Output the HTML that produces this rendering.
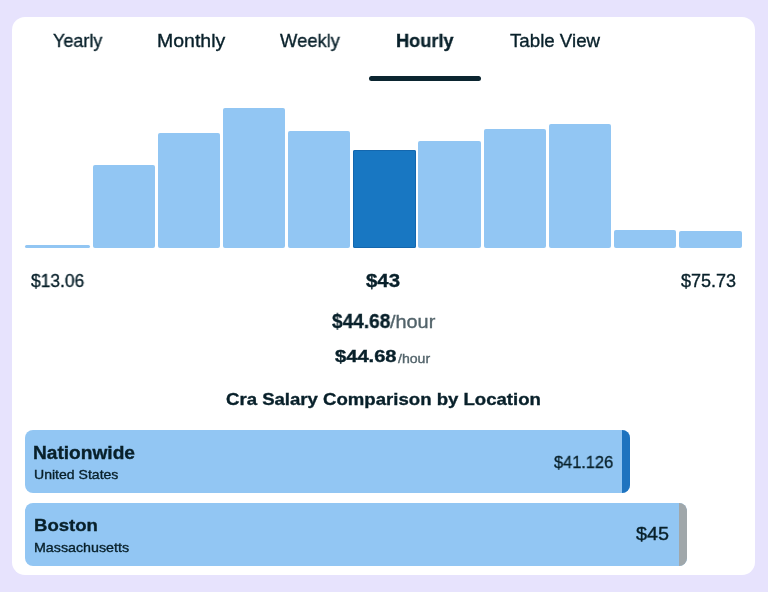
<!DOCTYPE html>
<html><head><meta charset="utf-8"><style>
html,body{margin:0;padding:0;width:768px;height:592px;overflow:hidden;background:#E7E3FD;font-family:"Liberation Sans",sans-serif}
.card{position:absolute;left:12px;top:17px;width:743px;height:558px;background:#fff;border-radius:13px}
.t{position:absolute;white-space:nowrap;transform-origin:0 0;will-change:transform;-webkit-text-stroke:0.35px currentColor}
.bar{position:absolute;border-radius:2px}
.ul{position:absolute;left:368.7px;top:76px;width:112.5px;height:4.8px;border-radius:3px;background:#0B2530}
.loc{position:absolute;left:25px;background:#92C6F3;border-radius:8px;overflow:hidden}
.strip{position:absolute;right:0;top:0;bottom:0;width:8.4px}
</style></head><body>
<div class="card"></div>
<div class="bar" style="left:25.0px;width:65.0px;top:245.0px;height:3.0px;background:#92C6F3"></div>
<div class="bar" style="left:93.0px;width:62.0px;top:165.0px;height:83.0px;background:#92C6F3"></div>
<div class="bar" style="left:158.0px;width:62.0px;top:133.0px;height:115.0px;background:#92C6F3"></div>
<div class="bar" style="left:223.0px;width:62.0px;top:108.0px;height:140.0px;background:#92C6F3"></div>
<div class="bar" style="left:288.0px;width:62.0px;top:131.0px;height:117.0px;background:#92C6F3"></div>
<div class="bar" style="left:353.0px;width:63.0px;top:150.0px;height:98.0px;background:#1877C2;box-shadow:inset 0 0 0 1px #1467AE"></div>
<div class="bar" style="left:418.0px;width:63.0px;top:141.0px;height:107.0px;background:#92C6F3"></div>
<div class="bar" style="left:484.0px;width:62.0px;top:129.0px;height:119.0px;background:#92C6F3"></div>
<div class="bar" style="left:549.0px;width:62.0px;top:124.0px;height:124.0px;background:#92C6F3"></div>
<div class="bar" style="left:614.0px;width:62.0px;top:230.0px;height:18.0px;background:#92C6F3"></div>
<div class="bar" style="left:679.0px;width:63.0px;top:231.0px;height:17.0px;background:#92C6F3"></div>
<div class="ul"></div>
<div class="loc" style="top:430.2px;height:62.8px;width:605px"><div class="strip" style="background:#1E73BF"></div></div>
<div class="loc" style="top:503.1px;height:62.7px;width:662px"><div class="strip" style="background:#A0A7AA"></div></div>
<div class="t" style="left:52.73px;top:31.64px;font-size:18.5px;line-height:18.5px;font-weight:400;color:#08202A;transform:scale(0.9710,1.0000);">Yearly</div>
<div class="t" style="left:156.93px;top:31.64px;font-size:18.5px;line-height:18.5px;font-weight:400;color:#08202A;transform:scale(1.0527,1.0000);">Monthly</div>
<div class="t" style="left:280.49px;top:31.64px;font-size:18.5px;line-height:18.5px;font-weight:400;color:#08202A;transform:scale(0.9924,1.0000);">Weekly</div>
<div class="t" style="left:395.50px;top:31.64px;font-size:18.5px;line-height:18.5px;font-weight:700;color:#08202A;transform:scale(0.9828,1.0000);">Hourly</div>
<div class="t" style="left:509.71px;top:31.64px;font-size:18.5px;line-height:18.5px;font-weight:400;color:#08202A;transform:scale(1.0103,1.0000);">Table View</div>
<div class="t" style="left:30.54px;top:272.06px;font-size:18px;line-height:18px;font-weight:400;color:#08202A;transform:scale(0.9675,1.0000);">$13.06</div>
<div class="t" style="left:365.98px;top:272.06px;font-size:18px;line-height:18px;font-weight:700;color:#08202A;transform:scale(1.1340,1.0000);">$43</div>
<div class="t" style="left:681.14px;top:272.06px;font-size:18px;line-height:18px;font-weight:400;color:#08202A;transform:scale(1.0016,1.0000);">$75.73</div>
<div class="t" style="left:331.72px;top:309.92px;font-size:21px;line-height:21px;font-weight:700;color:#08202A;transform:scale(0.9094,1.0000);">$44.68</div>
<div class="t" style="left:390.14px;top:311.62px;font-size:19px;line-height:19px;font-weight:400;color:#52636A;transform:scale(1.0450,1.0000);">/hour</div>
<div class="t" style="left:335.23px;top:348.21px;font-size:17px;line-height:17px;font-weight:700;color:#08202A;transform:scale(1.1833,1.0000);">$44.68</div>
<div class="t" style="left:397.86px;top:351.60px;font-size:13px;line-height:13px;font-weight:400;color:#52636A;transform:scale(1.0837,1.0000);">/hour</div>
<div class="t" style="left:226.10px;top:391.01px;font-size:17px;line-height:17px;font-weight:700;color:#08202A;transform:scale(1.0929,1.0000);">Cra Salary Comparison by Location</div>
<div class="t" style="left:33.44px;top:444.89px;font-size:17.5px;line-height:17.5px;font-weight:700;color:#08202A;transform:scale(1.0925,1.0000);">Nationwide</div>
<div class="t" style="left:34.03px;top:468.20px;font-size:13px;line-height:13px;font-weight:400;color:#08202A;transform:scale(1.0814,1.0000);">United States</div>
<div class="t" style="left:553.68px;top:453.91px;font-size:17px;line-height:17px;font-weight:400;color:#08202A;transform:scale(0.9630,1.0000);">$41.126</div>
<div class="t" style="left:33.56px;top:516.56px;font-size:17.3px;line-height:17.3px;font-weight:700;color:#08202A;transform:scale(1.0733,1.0000);">Boston</div>
<div class="t" style="left:33.98px;top:540.90px;font-size:13px;line-height:13px;font-weight:400;color:#08202A;transform:scale(1.0963,1.0000);">Massachusetts</div>
<div class="t" style="left:635.96px;top:526.09px;font-size:17.5px;line-height:17.5px;font-weight:400;color:#08202A;transform:scale(1.1322,1.0000);">$45</div>
</body></html>
